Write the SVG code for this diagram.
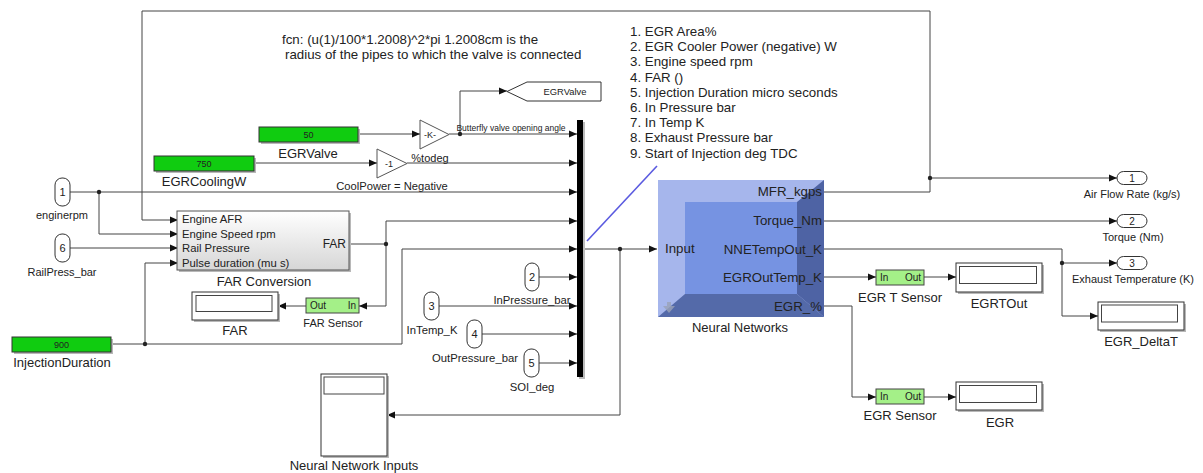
<svg xmlns="http://www.w3.org/2000/svg" width="1203" height="473" viewBox="0 0 1203 473">
<style>
text { font-family: "Liberation Sans", Arial, sans-serif; fill: #222; }
.ln { fill: none; stroke: #444; stroke-width: 1; }
.ar { marker-end: url(#arr); }
.lbl { font-size: 13px; text-anchor: middle; }
.sm { font-size: 11px; text-anchor: middle; }
.port { font-size: 11.3px; }
.nn { font-size: 13.3px; }
.const { fill: #10cc10; stroke: #333; stroke-width: 1; }
.sens { fill: #a4f088; stroke: #444; stroke-width: 1; }
.shadow { fill: #b8b8b8; }
.dispo { fill: #fff; stroke: #333; stroke-width: 1; }
.dispi { fill: #fff; stroke: #444; stroke-width: 1; }
.pill { fill: #fff; stroke: #333; stroke-width: 1; }
.tri { fill: #fff; stroke: #555; stroke-width: 1; }
.dot { fill: #222; }
</style>
<defs>
<marker id="arr" viewBox="0 0 8 8" refX="8" refY="4" markerWidth="8" markerHeight="8" markerUnits="userSpaceOnUse" orient="auto">
<path d="M0,0.5 L8,4 L0,7.5 z" fill="#111"/>
</marker>
<linearGradient id="farg" x1="0" y1="0" x2="0" y2="1">
<stop offset="0" stop-color="#ffffff"/>
<stop offset="1" stop-color="#d6d6d6"/>
</linearGradient>
</defs>
<rect width="1203" height="473" fill="#fff"/>

<g id="comment">
<text x="282" y="44" style="font-size:13.3px">fcn: (u(1)/100*1.2008)^2*pi 1.2008cm is the</text>
<text x="285" y="59" style="font-size:13.3px">radius of the pipes to which the valve is connected</text>
</g>
<g id="input-list" style="font-size:13.3px">
<text x="630" y="36" style="font-size:13.3px">1. EGR Area%</text>
<text x="630" y="51.2" style="font-size:13.3px">2. EGR Cooler Power (negative) W</text>
<text x="630" y="66.4" style="font-size:13.3px">3. Engine speed rpm</text>
<text x="630" y="81.6" style="font-size:13.3px">4. FAR ()</text>
<text x="630" y="96.8" style="font-size:13.3px">5. Injection Duration micro seconds</text>
<text x="630" y="112" style="font-size:13.3px">6. In Pressure bar</text>
<text x="630" y="127.2" style="font-size:13.3px">7. In Temp K</text>
<text x="630" y="142.4" style="font-size:13.3px">8. Exhaust Pressure bar</text>
<text x="630" y="157.6" style="font-size:13.3px">9. Start of Injection deg TDC</text>
</g>
<line x1="587" y1="241" x2="657" y2="166" stroke="#5a5ae0" stroke-width="1.6"/>

<g id="connectors">
<path class="ln ar" d="M358,134 H420"/>
<path class="ln ar" d="M449,134 H577"/>
<path class="ln ar" d="M460,134 V91 H507"/>
<path class="ln ar" d="M254,163 H377"/>
<path class="ln ar" d="M407,163 H577"/>
<path class="ln ar" d="M70,192 H577"/>
<path class="ln ar" d="M99,192 V234 H178"/>
<path class="ln ar" d="M70,248 H178"/>
<path class="ln ar" d="M930,178 V11 H142 V220 H178"/>
<path class="ln ar" d="M112,344 H402 V249 H577"/>
<path class="ln ar" d="M145,344 V263 H178"/>
<path class="ln ar" d="M349,244 H386 V221 H577"/>
<path class="ln ar" d="M386,244 V306 H359"/>
<path class="ln ar" d="M307,306 H278"/>
<path class="ln ar" d="M539,277 H577"/>
<path class="ln ar" d="M439,306 H577"/>
<path class="ln ar" d="M482,334 H577"/>
<path class="ln ar" d="M539,363 H577"/>
<path class="ln ar" d="M583,249 H657"/>
<path class="ln ar" d="M620,249 V415 H387"/>
<path class="ln" d="M824,192 H930 V178"/>
<path class="ln ar" d="M930,178 H1117"/>
<path class="ln ar" d="M824,221 H1117"/>
<path class="ln ar" d="M824,249 H1062 V263 H1117"/>
<path class="ln ar" d="M1062,263 V316 H1098"/>
<path class="ln ar" d="M824,277 H876"/>
<path class="ln ar" d="M924,277 H956"/>
<path class="ln ar" d="M824,306 H852 V397 H876"/>
<path class="ln ar" d="M924,397 H956"/>
<circle class="dot" cx="460" cy="134" r="2.2"/>
<circle class="dot" cx="99" cy="192" r="2.2"/>
<circle class="dot" cx="145" cy="344" r="2.2"/>
<circle class="dot" cx="386" cy="244" r="2.2"/>
<circle class="dot" cx="620" cy="249" r="2.2"/>
<circle class="dot" cx="930" cy="178" r="2.2"/>
<circle class="dot" cx="1062" cy="263" r="2.2"/>
<text x="511" y="131" style="font-size:8.5px;text-anchor:middle">Butterfly valve opening angle</text>
</g>

<g id="EGRValve-const">
<rect class="shadow" x="261" y="129" width="99" height="15"/>
<rect class="const" x="259" y="127" width="99" height="15"/>
<text x="308.5" y="138" style="font-size:9px;text-anchor:middle">50</text>
<text class="lbl" x="308" y="158">EGRValve</text>
</g>
<g id="EGRCoolingW-const">
<rect class="shadow" x="156" y="158" width="100" height="15"/>
<rect class="const" x="154" y="156" width="100" height="15"/>
<text x="204" y="167" style="font-size:9px;text-anchor:middle">750</text>
<text class="lbl" x="204" y="186">EGRCoolingW</text>
</g>
<g id="InjectionDuration-const">
<rect class="shadow" x="14" y="339" width="99" height="15"/>
<rect class="const" x="12" y="337" width="99" height="15"/>
<text x="61.5" y="348" style="font-size:9px;text-anchor:middle">900</text>
<text class="lbl" x="62" y="367">InjectionDuration</text>
</g>

<g id="gain-K">
<polygon class="tri" points="420,120 420,149 449,134.5"/>
<text x="430" y="138" style="font-size:9px;text-anchor:middle">-K-</text>
<text x="430" y="162" style="font-size:11px;text-anchor:middle">%todeg</text>
</g>
<g id="gain-neg1">
<polygon class="tri" points="377,149 377,178 407,163.5"/>
<text x="389" y="167" style="font-size:9px;text-anchor:middle">-1</text>
<text x="392" y="190" style="font-size:11.2px;text-anchor:middle">CoolPower = Negative</text>
</g>
<g id="goto-EGRValve">
<polygon points="507,91.5 527,82 601,82 601,101 527,101" fill="#fff" stroke="#333" stroke-width="1"/>
<text x="565" y="95" style="font-size:9.4px;text-anchor:middle">EGRValve</text>
</g>

<g id="in1">
<rect class="pill" x="55" y="178" width="15" height="28" rx="7"/>
<text x="62.5" y="196" style="font-size:11px;text-anchor:middle">1</text>
<text class="sm" x="62" y="219">enginerpm</text>
</g>
<g id="in6">
<rect class="pill" x="55" y="234" width="15" height="28" rx="7"/>
<text x="62.5" y="252" style="font-size:11px;text-anchor:middle">6</text>
<text class="sm" x="62" y="276">RailPress_bar</text>
</g>
<g id="in2">
<rect class="pill" x="525" y="263" width="14" height="28" rx="7"/>
<text x="532" y="281" style="font-size:11px;text-anchor:middle">2</text>
<text x="532" y="304" style="font-size:11.3px;text-anchor:middle">InPressure_bar</text>
</g>
<g id="in3">
<rect class="pill" x="424" y="292" width="15" height="28" rx="7"/>
<text x="431.5" y="310" style="font-size:11px;text-anchor:middle">3</text>
<text x="432" y="334" style="font-size:11.3px;text-anchor:middle">InTemp_K</text>
</g>
<g id="in4">
<rect class="pill" x="467" y="320" width="15" height="28" rx="7"/>
<text x="474.5" y="338" style="font-size:11px;text-anchor:middle">4</text>
<text x="475" y="362" style="font-size:11.3px;text-anchor:middle">OutPressure_bar</text>
</g>
<g id="in5">
<rect class="pill" x="524" y="349" width="15" height="28" rx="7"/>
<text x="531.5" y="367" style="font-size:11px;text-anchor:middle">5</text>
<text x="532" y="391" style="font-size:11.3px;text-anchor:middle">SOI_deg</text>
</g>

<g id="FAR-Conversion">
<rect class="shadow" x="179" y="213" width="172" height="59"/>
<rect x="177" y="211" width="172" height="59" fill="url(#farg)" stroke="#555" stroke-width="1"/>
<text class="port" x="182" y="223">Engine AFR</text>
<text class="port" x="182" y="238">Engine Speed rpm</text>
<text class="port" x="182" y="252">Rail Pressure</text>
<text class="port" x="182" y="267">Pulse duration (mu s)</text>
<text x="346" y="248" style="font-size:12px;text-anchor:end">FAR</text>
<text class="lbl" x="264" y="286">FAR Conversion</text>
</g>
<g id="FAR-Sensor">
<rect class="sens" x="306" y="298" width="53" height="15"/>
<text x="310" y="309" style="font-size:10px">Out</text>
<text x="356" y="309" style="font-size:10px;text-anchor:end">In</text>
<text class="sm" x="333" y="327">FAR Sensor</text>
</g>
<g id="FAR-display">
<rect class="shadow" x="194" y="294" width="86" height="28"/>
<rect class="dispo" x="192" y="292" width="86" height="28"/>
<rect class="dispi" x="196" y="295.5" width="76" height="16"/>
<text class="lbl" x="235" y="335">FAR</text>
</g>

<g id="mux">
<rect x="579" y="122" width="6" height="257" fill="#bbb"/>
<rect x="577" y="120" width="6" height="257" fill="#000"/>
</g>

<g id="NN-inputs-scope">
<rect class="shadow" x="323" y="376" width="66" height="82"/>
<rect class="dispo" x="321" y="374" width="66" height="82"/>
<rect class="dispi" x="324" y="377" width="60" height="17"/>
<text class="lbl" x="354" y="470">Neural Network Inputs</text>
</g>

<g id="Neural-Networks">
<rect x="658" y="180" width="166" height="137" fill="#a6b6ec"/>
<polygon points="824,180 824,317 797,294 797,202" fill="#4e63a4"/>
<polygon points="658,317 824,317 797,294 685,294" fill="#546aa9"/>
<rect x="685" y="202" width="112" height="92" fill="#7693e2"/>
<polygon points="663,306 667,306 667,302 671,302 671,306 675,306 669,313" fill="#9aa3b8" opacity="0.8"/>
<text class="nn" x="665" y="253">Input</text>
<text class="nn" x="822" y="196" style="text-anchor:end">MFR_kgps</text>
<text class="nn" x="822" y="225" style="text-anchor:end">Torque_Nm</text>
<text class="nn" x="822" y="254" style="text-anchor:end">NNETempOut_K</text>
<text class="nn" x="822" y="282" style="text-anchor:end">EGROutTemp_K</text>
<text class="nn" x="822" y="311" style="text-anchor:end">EGR_%</text>
<text class="lbl" x="740" y="332">Neural Networks</text>
</g>

<g id="out1">
<rect class="pill" x="1117" y="171.5" width="30" height="13" rx="6.5"/>
<text x="1132" y="182" style="font-size:10px;text-anchor:middle">1</text>
<text class="sm" x="1132" y="198">Air Flow Rate (kg/s)</text>
</g>
<g id="out2">
<rect class="pill" x="1117" y="214.5" width="30" height="13" rx="6.5"/>
<text x="1132" y="225" style="font-size:10px;text-anchor:middle">2</text>
<text class="sm" x="1133" y="241">Torque (Nm)</text>
</g>
<g id="out3">
<rect class="pill" x="1117" y="256.5" width="30" height="13" rx="6.5"/>
<text x="1132" y="267" style="font-size:10px;text-anchor:middle">3</text>
<text class="sm" x="1133" y="283">Exhaust Temperature (K)</text>
</g>

<g id="EGR-T-Sensor">
<rect class="sens" x="876" y="270" width="48" height="15"/>
<text x="880" y="281" style="font-size:10px">In</text>
<text x="921" y="281" style="font-size:10px;text-anchor:end">Out</text>
<text class="lbl" x="900" y="302">EGR T Sensor</text>
</g>
<g id="EGRTOut">
<rect class="shadow" x="958" y="265" width="86" height="29"/>
<rect class="dispo" x="956" y="263" width="86" height="29"/>
<rect class="dispi" x="959.5" y="266.5" width="77" height="17"/>
<text class="lbl" x="999" y="308">EGRTOut</text>
</g>
<g id="EGR_DeltaT">
<rect class="shadow" x="1100" y="304" width="86" height="28"/>
<rect class="dispo" x="1098" y="302" width="86" height="28"/>
<rect class="dispi" x="1101.5" y="305" width="76" height="17"/>
<text class="lbl" x="1141" y="346">EGR_DeltaT</text>
</g>
<g id="EGR-Sensor">
<rect class="sens" x="876" y="389" width="48" height="15"/>
<text x="880" y="400" style="font-size:10px">In</text>
<text x="921" y="400" style="font-size:10px;text-anchor:end">Out</text>
<text class="lbl" x="900" y="420">EGR Sensor</text>
</g>
<g id="EGR-display">
<rect class="shadow" x="958" y="384" width="86" height="28"/>
<rect class="dispo" x="956" y="382" width="86" height="28"/>
<rect class="dispi" x="959.5" y="385.5" width="77" height="17"/>
<text class="lbl" x="1000" y="427">EGR</text>
</g>
</svg>
